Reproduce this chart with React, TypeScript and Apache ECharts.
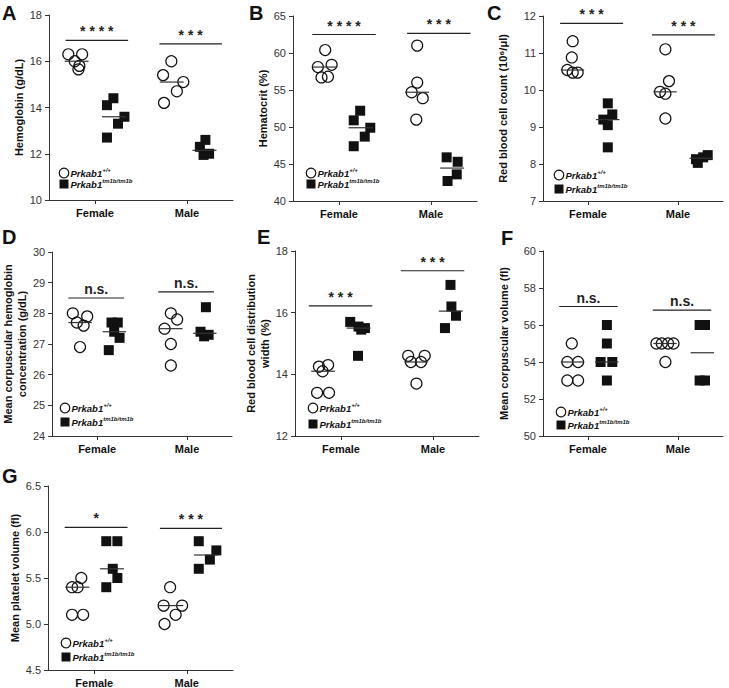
import React, { useEffect, useRef } from 'react';
import * as echarts from 'echarts';

type Pt = [number, number];
type Bar = [number, number, number];

const FONT = '"Liberation Sans", Arial, Helvetica, sans-serif';

// Category axis: Female centred at 0.5, Male at 1.5 (x values below are in these units)
const categories = ['Female', 'Male'];
const legendNames = ['+/+', 'tm1b/tm1b'];

// A — Hemoglobin (g/dL)
const hemoglobinWT: Pt[] = [[0.21, 16.3], [0.36, 16.3], [0.28, 16.0], [0.33, 15.8], [0.32, 15.65], [1.33, 16.0], [1.24, 15.4], [1.46, 15.1], [1.39, 14.7], [1.25, 14.2]];
const hemoglobinKO: Pt[] = [[0.63, 14.1], [0.70, 14.4], [0.82, 13.6], [0.75, 13.3], [0.63, 12.7], [1.70, 12.6], [1.64, 12.3], [1.74, 12.0], [1.68, 11.95]];
const hemoglobinSig: Bar[] = [[0.18, 0.86, 16.9], [1.2, 1.88, 16.75]];
const hemoglobinSigLabels = ['****', '***'];

// B — Hematocrit (%)
const hematocritWT: Pt[] = [[0.35, 60.4], [0.27, 58.1], [0.42, 58.4], [0.31, 56.7], [0.38, 56.8], [1.35, 61.0], [1.35, 56.0], [1.29, 54.7], [1.41, 53.9], [1.34, 51.0]];
const hematocritKO: Pt[] = [[0.73, 52.2], [0.66, 50.9], [0.84, 49.9], [0.78, 48.7], [0.66, 47.4], [1.67, 45.9], [1.79, 45.3], [1.78, 43.6], [1.68, 42.7]];
const hematocritSig: Bar[] = [[0.21, 0.9, 62.5], [1.24, 1.93, 62.65]];
const hematocritSigLabels = ['****', '***'];

// C — Red blood cell count (10^6/µl)
const rbcWT: Pt[] = [[0.33, 11.32], [0.32, 10.88], [0.27, 10.54], [0.33, 10.47], [0.385, 10.47], [1.36, 11.1], [1.4, 10.24], [1.3, 9.95], [1.36, 9.9], [1.36, 9.23]];
const rbcKO: Pt[] = [[0.72, 9.64], [0.77, 9.34], [0.67, 9.2], [0.72, 9.05], [0.72, 8.45], [1.7, 8.13], [1.78, 8.18], [1.83, 8.24], [1.72, 8.03]];
const rbcSig: Bar[] = [[0.19, 0.89, 11.8], [1.21, 1.91, 11.49]];
const rbcSigLabels = ['***', '***'];

// D — Mean corpuscular hemoglobin concentration (g/dL)
const mchcWT: Pt[] = [[0.23, 28.0], [0.39, 27.9], [0.275, 27.7], [0.35, 27.6], [0.31, 26.9], [1.32, 28.0], [1.39, 27.8], [1.25, 27.5], [1.32, 27.0], [1.32, 26.3]];
const mchcKO: Pt[] = [[0.66, 27.7], [0.73, 27.7], [0.69, 27.4], [0.75, 27.2], [0.63, 26.8], [1.71, 28.2], [1.65, 27.4], [1.74, 27.3], [1.69, 27.25]];
const mchcSig: Bar[] = [[0.18, 0.8, 28.5], [1.18, 1.8, 28.7]];
const mchcSigLabels = ['n.s.', 'n.s.'];

// E — Red blood cell distribution width (%)
const rdwWT: Pt[] = [[0.26, 14.25], [0.36, 14.3], [0.3, 14.1], [0.24, 13.4], [0.37, 13.4], [1.23, 14.6], [1.41, 14.6], [1.26, 14.4], [1.37, 14.4], [1.32, 13.7]];
const rdwKO: Pt[] = [[0.6, 15.7], [0.69, 15.55], [0.76, 15.5], [0.72, 15.45], [0.685, 14.6], [1.69, 16.9], [1.7, 16.2], [1.75, 15.9], [1.63, 15.5]];
const rdwSig: Bar[] = [[0.15, 0.84, 16.22], [1.15, 1.84, 17.36]];
const rdwSigLabels = ['***', '***'];

// F — Mean corpuscular volume (fl)
const mcvWT: Pt[] = [[0.32, 55], [0.27, 54], [0.39, 54], [0.27, 53], [0.39, 53], [1.26, 55], [1.32, 55], [1.39, 55], [1.45, 55], [1.36, 54]];
const mcvKO: Pt[] = [[0.71, 56], [0.71, 55], [0.64, 54], [0.77, 54], [0.71, 53], [1.74, 56], [1.8, 56], [1.74, 53], [1.8, 53]];
const mcvSig: Bar[] = [[0.18, 0.83, 57.0], [1.22, 1.87, 56.8]];
const mcvSigLabels = ['n.s.', 'n.s.'];

// G — Mean platelet volume (fl)
const mpvWT: Pt[] = [[0.36, 5.5], [0.26, 5.4], [0.32, 5.4], [0.26, 5.1], [0.38, 5.1], [1.32, 5.4], [1.25, 5.2], [1.45, 5.2], [1.38, 5.1], [1.26, 5.0]];
const mpvKO: Pt[] = [[0.63, 5.9], [0.75, 5.9], [0.7, 5.6], [0.75, 5.5], [0.63, 5.4], [1.63, 5.9], [1.82, 5.8], [1.75, 5.7], [1.63, 5.6]];
const mpvSig: Bar[] = [[0.18, 0.86, 6.05], [1.21, 1.88, 6.04]];
const mpvSigLabels = ['*', '***'];

const panelLetters = ['A', 'B', 'C', 'D', 'E', 'F', 'G'];
const yNames = [
  'Hemoglobin (g/dL)',
  'Hematocrit (%)',
  'Red blood cell count (10\u2076/\u03bcl)',
  'Mean corpuscular hemoglobin\nconcentration (g/dL)',
  'Red blood cell distribution\nwidth (%)',
  'Mean corpuscular volume (fl)',
  'Mean platelet volume (fl)',
];
const yMins = [10, 40, 7, 24, 12, 50, 4.5];
const yMaxs = [18, 65, 12, 30, 18, 60, 6.5];
const yIntervals = [2, 5, 1, 1, 2, 2, 0.5];
const yDecimals = [0, 0, 0, 0, 0, 0, 1];

const panelData = [
  { wt: hemoglobinWT, ko: hemoglobinKO, sig: hemoglobinSig, labels: hemoglobinSigLabels },
  { wt: hematocritWT, ko: hematocritKO, sig: hematocritSig, labels: hematocritSigLabels },
  { wt: rbcWT, ko: rbcKO, sig: rbcSig, labels: rbcSigLabels },
  { wt: mchcWT, ko: mchcKO, sig: mchcSig, labels: mchcSigLabels },
  { wt: rdwWT, ko: rdwKO, sig: rdwSig, labels: rdwSigLabels },
  { wt: mcvWT, ko: mcvKO, sig: mcvSig, labels: mcvSigLabels },
  { wt: mpvWT, ko: mpvKO, sig: mpvSig, labels: mpvSigLabels },
];

// Layout (pixels)
const grids = [
  { left: 49, top: 15, width: 184, height: 185 },
  { left: 293, top: 16, width: 184, height: 185 },
  { left: 543, top: 16, width: 180, height: 185 },
  { left: 48, top: 252, width: 184, height: 184 },
  { left: 295, top: 251, width: 184, height: 185 },
  { left: 543, top: 251, width: 180, height: 185 },
  { left: 48, top: 486, width: 185, height: 184 },
];
const nameGaps = [23, 23, 33, 19, 19, 32, 22];
const letterPos = [[2, 3], [249, 3], [487, 3], [2, 227], [257, 227], [501, 228], [2, 466]];
const legendPos = [[64, 173, 184], [311, 173, 184], [559, 175, 189], [65, 408, 422], [313, 408, 424], [561, 412, 425], [66, 643, 657]];

function median(v: number[]): number {
  const s = [...v].sort((a, b) => a - b);
  const n = s.length;
  return n % 2 ? s[(n - 1) / 2] : (s[n / 2 - 1] + s[n / 2]) / 2;
}
function groupMedians(pts: Pt[]): Pt[] {
  return [0, 1].map((c) => {
    const g = pts.filter((p) => Math.floor(p[0]) === c);
    const cx = g.reduce((a, p) => a + p[0], 0) / g.length;
    return [cx, median(g.map((p) => p[1]))] as Pt;
  });
}

function buildOption() {
  const xAxis: any[] = [];
  const yAxis: any[] = [];
  const series: any[] = [];
  const graphic: any[] = [];

  grids.forEach((g, i) => {
    const pd = panelData[i];
    xAxis.push({
      type: 'category', gridIndex: i, data: categories, boundaryGap: true,
      axisLine: { show: true, lineStyle: { color: '#333', width: 1 } },
      axisTick: { show: true, alignWithLabel: true, length: 4, lineStyle: { color: '#333' } },
      axisLabel: { fontSize: 11, fontWeight: 'bold', color: '#111', margin: 7, fontFamily: FONT },
      splitLine: { show: false },
    });
    xAxis.push({ type: 'value', gridIndex: i, min: 0, max: 2, show: false });
    yAxis.push({
      type: 'value', gridIndex: i, min: yMins[i], max: yMaxs[i], interval: yIntervals[i],
      axisLine: { show: true, lineStyle: { color: '#333', width: 1 } },
      axisTick: { show: true, inside: false, length: 4, lineStyle: { color: '#333' } },
      splitLine: { show: false },
      axisLabel: {
        fontSize: 11, color: '#333', margin: 7, fontFamily: FONT,
        formatter: (v: number) => v.toFixed(yDecimals[i]),
      },
      name: yNames[i], nameLocation: 'middle', nameGap: nameGaps[i], nameRotate: 90,
      nameTextStyle: { fontSize: 11, fontWeight: 'bold', color: '#111', fontFamily: FONT, lineHeight: 14 },
    });

    const xi = 2 * i + 1;
    series.push({
      type: 'custom', name: 'median' + i, xAxisIndex: xi, yAxisIndex: i, silent: true, z: 4,
      data: [...groupMedians(pd.wt), ...groupMedians(pd.ko)],
      encode: { x: 0, y: 1 },
      renderItem: (_p: any, api: any) => {
        const cx = api.value(0), m = api.value(1);
        const a = api.coord([cx - 0.13, m]);
        const b = api.coord([cx + 0.13, m]);
        return { type: 'line', shape: { x1: a[0], y1: a[1], x2: b[0], y2: b[1] }, style: { stroke: '#333', lineWidth: 1.2 } };
      },
    });
    series.push({
      type: 'scatter', name: 'WT', xAxisIndex: xi, yAxisIndex: i, data: pd.wt, silent: true, z: 3,
      symbol: 'circle', symbolSize: 11,
      itemStyle: { color: 'rgba(255,255,255,0)', borderColor: '#111', borderWidth: 1.2, opacity: 1 },
    });
    series.push({
      type: 'scatter', name: 'KO', xAxisIndex: xi, yAxisIndex: i, data: pd.ko, silent: true, z: 3,
      symbol: 'rect', symbolSize: 10,
      itemStyle: { color: '#111', opacity: 1 },
    });
    const labels = pd.labels;
    series.push({
      type: 'custom', name: 'sig' + i, xAxisIndex: xi, yAxisIndex: i, silent: true, z: 4,
      data: pd.sig, dimensions: ['x1', 'x2', 'y'], encode: { x: [0, 1], y: 2 },
      renderItem: (p: any, api: any) => {
        const a = api.coord([api.value(0), api.value(2)]);
        const b = api.coord([api.value(1), api.value(2)]);
        const raw = labels[p.dataIndex];
        const txt = raw.indexOf('*') >= 0 ? raw.split('').join(' ') : raw;
        return {
          type: 'group',
          children: [
            { type: 'line', shape: { x1: a[0], y1: a[1], x2: b[0], y2: b[1] }, style: { stroke: '#222', lineWidth: 1.2 } },
            {
              type: 'text', x: (a[0] + b[0]) / 2, y: a[1] - 2,
              style: {
                text: txt, fill: '#222', font: `bold 14px ${FONT}`,
                align: 'center', verticalAlign: 'bottom', textAlign: 'center', textVerticalAlign: 'bottom',
              },
            },
          ],
        };
      },
    });

    const [lx, ly] = letterPos[i];
    graphic.push({ type: 'text', left: lx, top: ly, style: { text: panelLetters[i], font: `bold 20px ${FONT}`, fill: '#111' } });
    const [cx, cy1, cy2] = legendPos[i];
    graphic.push({ type: 'circle', shape: { cx, cy: cy1, r: 4.8 }, style: { fill: '#fff', stroke: '#111', lineWidth: 1.2 } });
    graphic.push({ type: 'rect', shape: { x: cx - 4.5, y: cy2 - 4.5, width: 9, height: 9 }, style: { fill: '#111' } });
    [cy1, cy2].forEach((cy, k) => {
      graphic.push({
        type: 'text', x: cx + 6.5, y: cy,
        style: {
          text: `{a|Prkab1}{s|${legendNames[k]}}`,
          fill: '#111',
          verticalAlign: 'middle', textVerticalAlign: 'middle',
          rich: {
            a: { fontSize: 9.5, fontWeight: 'bold', fontStyle: 'italic', fontFamily: FONT, fill: '#111', color: '#111', lineHeight: 12 },
            s: { fontSize: 6, fontWeight: 'bold', fontStyle: 'italic', fontFamily: FONT, fill: '#111', color: '#111', lineHeight: 7, verticalAlign: 'top' },
          },
        },
      });
    });
  });

  return {
    animation: false,
    backgroundColor: '#fff',
    textStyle: { fontFamily: FONT },
    grid: grids.map((g) => ({ ...g, containLabel: false })),
    xAxis, yAxis, series, graphic,
  };
}

export default function App() {
  const ref = useRef<HTMLDivElement>(null);
  useEffect(() => {
    const chart = echarts.init(ref.current!, null, { renderer: 'svg' });
    chart.setOption(buildOption());
    return () => chart.dispose();
  }, []);
  return <div ref={ref} style={{ position: 'absolute', left: 0, top: 0, width: 729, height: 688 }} />;
}
